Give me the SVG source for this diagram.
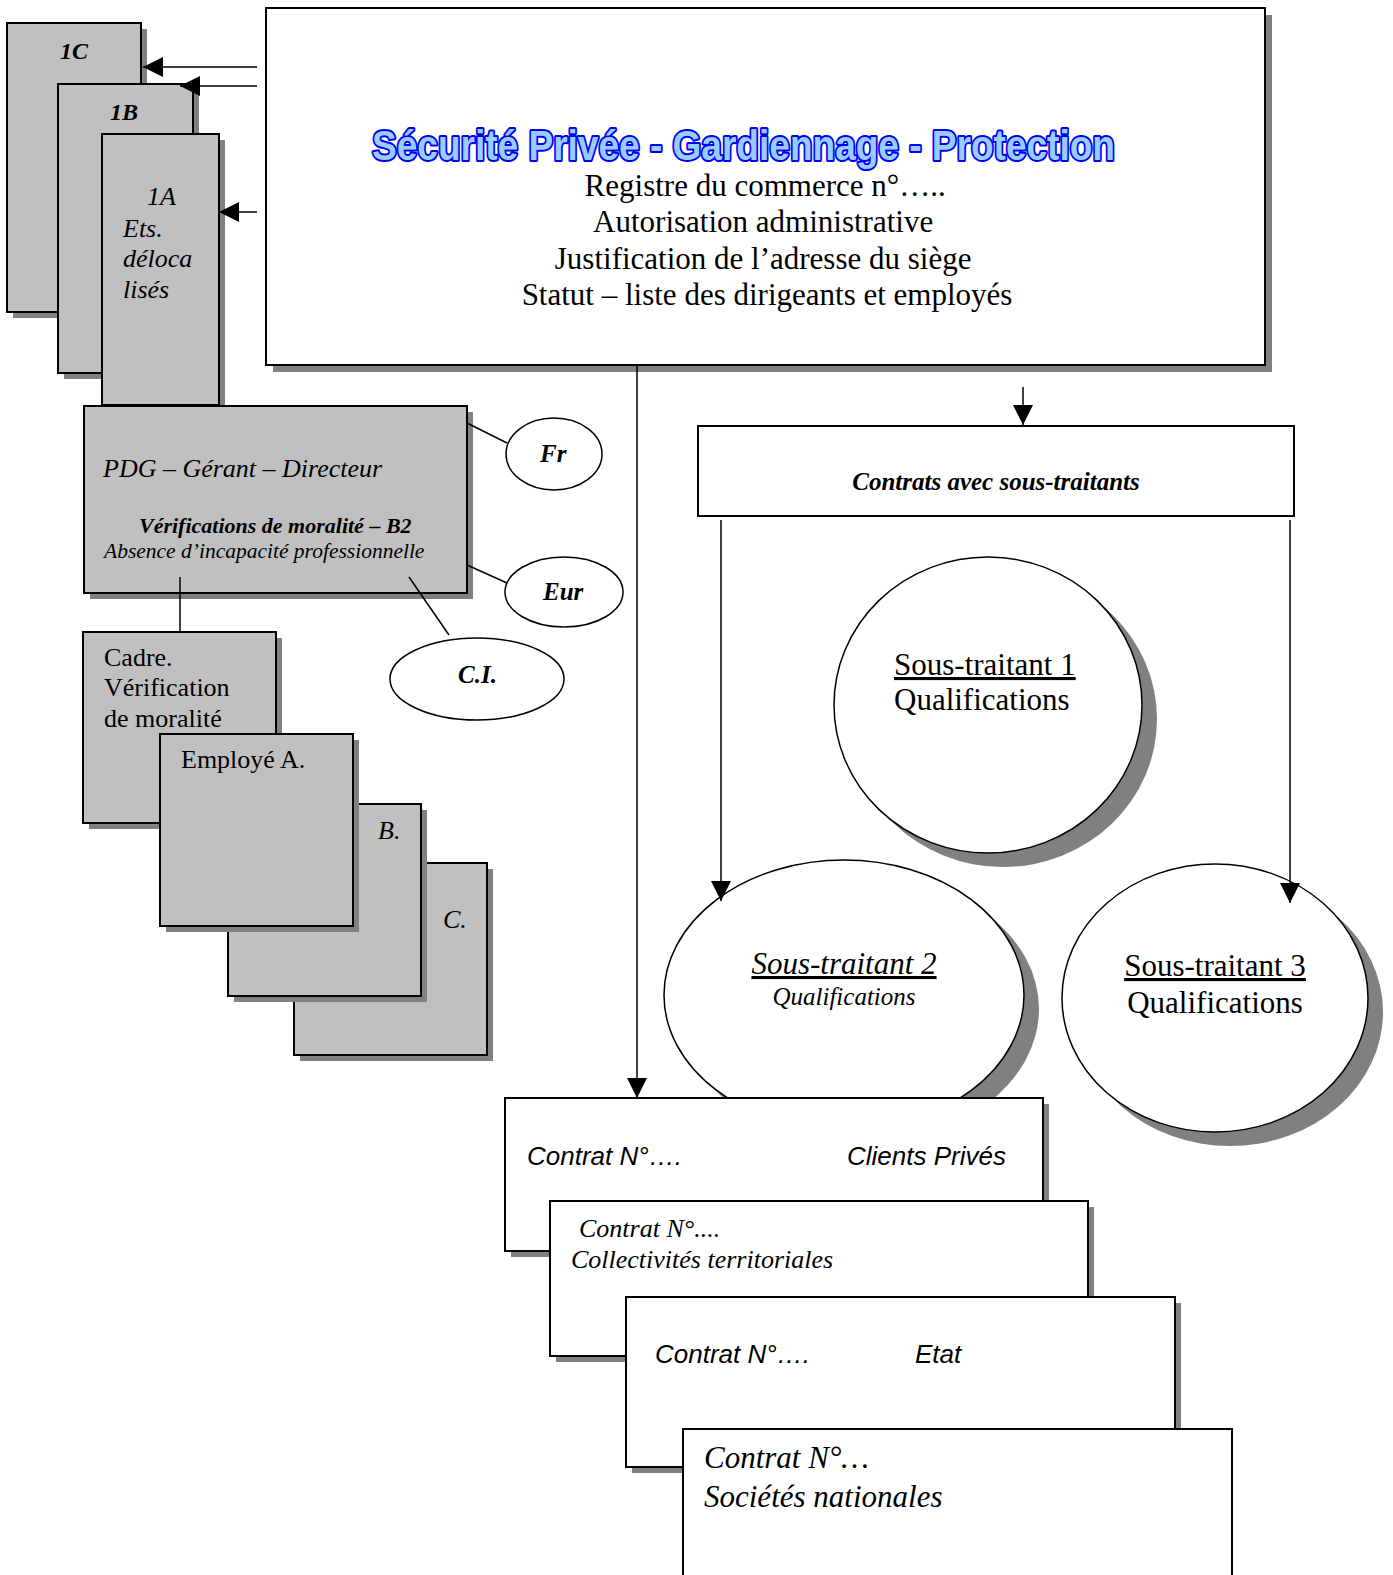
<svg xmlns="http://www.w3.org/2000/svg" width="1393" height="1575" viewBox="0 0 1393 1575">
  <style>
    .box { fill: #c0c0c0; stroke: #000; stroke-width: 2; }
    .wbox { fill: #fff; stroke: #000; stroke-width: 2; }
    .shadow { fill: #808080; stroke: none; }
    .oval { fill: #fff; stroke: #000; stroke-width: 1.5; }
    .link { fill: none; stroke: #000; stroke-width: 1.5; }
    .tr { font-family: "Liberation Serif", "Times New Roman", serif; fill: #000; }
    .ar { font-family: "Liberation Sans", Arial, sans-serif; fill: #000; }
    .it { font-style: italic; }
    .bd { font-weight: bold; }
    .ul { text-decoration: underline; }
    .title { font-family: "Liberation Sans", Arial, sans-serif; font-weight: bold; font-size: 43px; fill: #99ccff; stroke: #0000ff; stroke-width: 4; stroke-linejoin: round; paint-order: stroke; }
  </style>
  <defs>
    <marker id="arrow" markerUnits="userSpaceOnUse" markerWidth="20" markerHeight="20" refX="20" refY="10" orient="auto">
      <path d="M0,0 L20,10 L0,20 z" fill="#000"/>
    </marker>
  </defs>

  <rect width="1393" height="1575" fill="#fff"/>

  <!-- establishment stack -->
  <g id="ets-1c">
    <rect class="shadow" x="13" y="29" width="134" height="289"/>
    <rect class="box" x="7" y="23" width="134" height="289"/>
    <text class="tr it bd" x="60" y="59" font-size="24">1C</text>
  </g>
  <g id="ets-1b">
    <rect class="shadow" x="64" y="90" width="135" height="289"/>
    <rect class="box" x="58" y="84" width="135" height="289"/>
    <text class="tr it bd" x="110" y="120" font-size="24">1B</text>
  </g>
  <g id="ets-1a">
    <rect class="shadow" x="108" y="140" width="117" height="271"/>
    <rect class="box" x="102" y="134" width="117" height="271"/>
    <text class="tr it" font-size="26">
      <tspan x="147" y="205">1A</tspan>
      <tspan x="123" y="237">Ets.</tspan>
      <tspan x="123" y="267">déloca</tspan>
      <tspan x="123" y="298">lisés</tspan>
    </text>
  </g>

  <!-- company header -->
  <g id="header">
    <rect class="shadow" x="273" y="15" width="999" height="357"/>
    <rect class="wbox" x="266" y="8" width="999" height="357"/>
    <text class="title" x="372" y="160" textLength="743" lengthAdjust="spacingAndGlyphs">Sécurité Privée - Gardiennage - Protection</text>
    <text class="tr" font-size="31" text-anchor="middle">
      <tspan x="769" y="196">Registre du commerce n°…..</tspan>
      <tspan x="767" y="232">Autorisation administrative</tspan>
      <tspan x="767" y="269">Justification de l’adresse du siège</tspan>
      <tspan x="767" y="305">Statut – liste des dirigeants et employés</tspan>
    </text>
  </g>

  <!-- management -->
  <g id="pdg">
    <rect class="shadow" x="90" y="412" width="383" height="187"/>
    <rect class="box" x="84" y="406" width="383" height="187"/>
    <text class="tr it" x="103" y="477" font-size="26">PDG – Gérant – Directeur</text>
    <text class="tr it bd" x="139" y="533" font-size="22">Vérifications de moralité – B2</text>
    <text class="tr it" x="104" y="558" font-size="21.5">Absence d’incapacité professionnelle</text>
  </g>
  <g id="fr">
    <ellipse class="oval" cx="554" cy="454" rx="48" ry="36"/>
    <text class="tr it bd" x="540" y="462" font-size="25">Fr</text>
  </g>
  <g id="eur">
    <ellipse class="oval" cx="564" cy="592" rx="59" ry="35"/>
    <text class="tr it bd" x="543" y="600" font-size="25">Eur</text>
  </g>
  <g id="ci">
    <ellipse class="oval" cx="477" cy="679" rx="87" ry="41"/>
    <text class="tr it bd" x="458" y="683" font-size="25">C.I.</text>
  </g>

  <!-- staff -->
  <g id="employe-c">
    <rect class="shadow" x="300" y="869" width="193" height="192"/>
    <rect class="box" x="294" y="863" width="193" height="192"/>
    <text class="tr it" x="443" y="928" font-size="26">C.</text>
  </g>
  <g id="employe-b">
    <rect class="shadow" x="234" y="810" width="193" height="192"/>
    <rect class="box" x="228" y="804" width="193" height="192"/>
    <text class="tr it" x="378" y="839" font-size="26">B.</text>
  </g>
  <g id="cadre">
    <rect class="shadow" x="89" y="638" width="193" height="191"/>
    <rect class="box" x="83" y="632" width="193" height="191"/>
    <text class="tr" font-size="26">
      <tspan x="104" y="666">Cadre.</tspan>
      <tspan x="104" y="696">Vérification</tspan>
      <tspan x="104" y="727">de moralité</tspan>
    </text>
  </g>
  <g id="employe-a">
    <rect class="shadow" x="166" y="740" width="193" height="192"/>
    <rect class="box" x="160" y="734" width="193" height="192"/>
    <text class="tr" x="181" y="768" font-size="26">Employé A.</text>
  </g>

  <!-- subcontracting -->
  <g id="contrats-st">
    <rect class="wbox" x="698" y="426" width="596" height="90"/>
    <text class="tr it bd" x="996" y="490" font-size="25" text-anchor="middle">Contrats avec sous-traitants</text>
  </g>
  <g id="st1">
    <ellipse class="shadow" cx="1003" cy="719" rx="154" ry="148"/>
    <ellipse class="oval" cx="988" cy="705" rx="154" ry="148"/>
    <text class="tr ul" x="894" y="675" font-size="31">Sous-traitant 1</text>
    <text class="tr" x="894" y="710" font-size="31">Qualifications</text>
  </g>
  <g id="st2">
    <ellipse class="shadow" cx="859" cy="1009" rx="180" ry="135"/>
    <ellipse class="oval" cx="844" cy="995" rx="180" ry="135"/>
    <text class="tr it ul" x="844" y="974" font-size="31" text-anchor="middle">Sous-traitant 2</text>
    <text class="tr it" x="844" y="1005" font-size="25" text-anchor="middle">Qualifications</text>
  </g>
  <g id="st3">
    <ellipse class="shadow" cx="1230" cy="1012" rx="153" ry="134"/>
    <ellipse class="oval" cx="1215" cy="998" rx="153" ry="134"/>
    <text class="tr ul" x="1215" y="976" font-size="31" text-anchor="middle">Sous-traitant 3</text>
    <text class="tr" x="1215" y="1013" font-size="31" text-anchor="middle">Qualifications</text>
  </g>

  <!-- client contracts -->
  <g id="contrat-prives">
    <rect class="shadow" x="511" y="1104" width="538" height="153"/>
    <rect class="wbox" x="505" y="1098" width="538" height="153"/>
    <text class="ar it" x="527" y="1165" font-size="26">Contrat N°….</text>
    <text class="ar it" x="847" y="1165" font-size="26">Clients Privés</text>
  </g>
  <g id="contrat-collectivites">
    <rect class="shadow" x="556" y="1207" width="538" height="155"/>
    <rect class="wbox" x="550" y="1201" width="538" height="155"/>
    <text class="tr it" x="579" y="1237" font-size="26">Contrat N°....</text>
    <text class="tr it" x="571" y="1268" font-size="26">Collectivités territoriales</text>
  </g>
  <g id="contrat-etat">
    <rect class="shadow" x="632" y="1303" width="549" height="170"/>
    <rect class="wbox" x="626" y="1297" width="549" height="170"/>
    <text class="ar it" x="655" y="1363" font-size="26">Contrat N°….</text>
    <text class="ar it" x="915" y="1363" font-size="26">Etat</text>
  </g>
  <g id="contrat-societes">
    <rect class="wbox" x="683" y="1429" width="549" height="160"/>
    <text class="tr it" x="704" y="1468" font-size="31">Contrat N°…</text>
    <text class="tr it" x="704" y="1507" font-size="31">Sociétés nationales</text>
  </g>

  <!-- connectors -->
  <g id="connectors">
    <line class="link" x1="257" y1="67" x2="143" y2="67" marker-end="url(#arrow)"/>
    <line class="link" x1="257" y1="86" x2="180" y2="86" marker-end="url(#arrow)"/>
    <line class="link" x1="257" y1="212" x2="219" y2="212" marker-end="url(#arrow)"/>
    <line class="link" x1="637" y1="365" x2="637" y2="1098" marker-end="url(#arrow)"/>
    <line class="link" x1="1023" y1="387" x2="1023" y2="425" marker-end="url(#arrow)"/>
    <line class="link" x1="721" y1="520" x2="721" y2="901" marker-end="url(#arrow)"/>
    <line class="link" x1="1290" y1="520" x2="1290" y2="903" marker-end="url(#arrow)"/>
    <line class="link" x1="467" y1="423" x2="507" y2="443"/>
    <line class="link" x1="467" y1="565" x2="507" y2="583"/>
    <line class="link" x1="409" y1="577" x2="449" y2="635"/>
    <line class="link" x1="180" y1="577" x2="180" y2="632"/>
  </g>
</svg>
